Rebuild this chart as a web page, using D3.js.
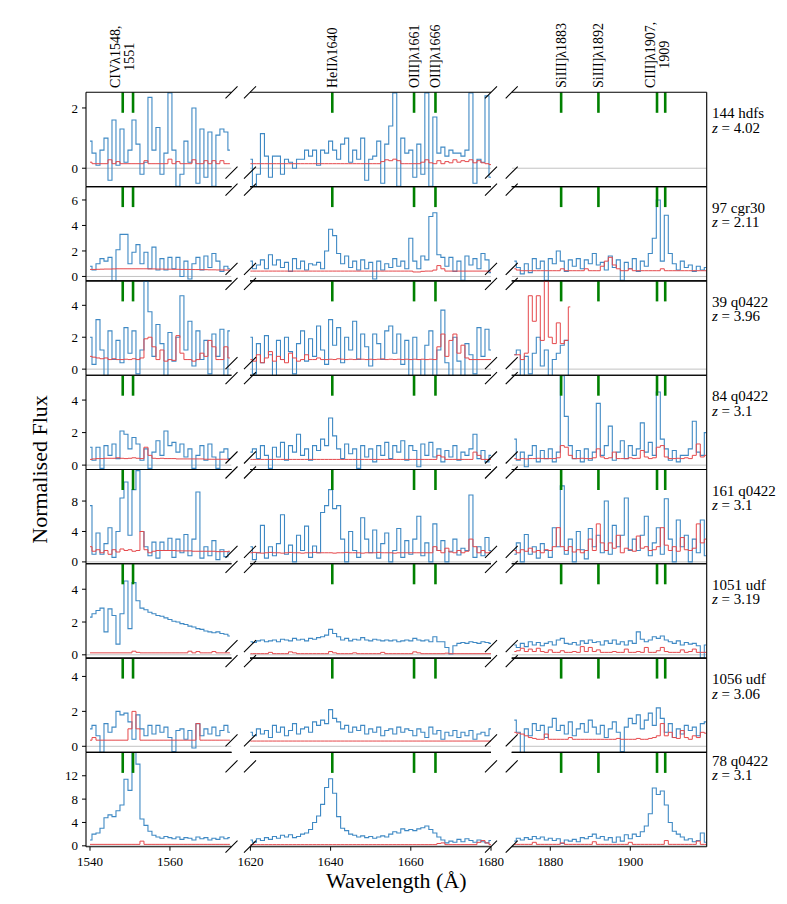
<!DOCTYPE html>
<html><head><meta charset="utf-8">
<script src="https://cdn.jsdelivr.net/npm/d3@7"></script>
<style>body{margin:0;background:#fff;} text{font-family:"Liberation Serif","DejaVu Serif",serif;fill:#000;}</style>
</head><body>
<script>
// ---------------- DATA ----------------
const gridStart = [1540, 1620, 1871];   // first bin centre (Å) in each wavelength window
const gridStep = 1;                      // Å per bin
const rowIds = ["144 hdfs","97 cgr30","39 q0422","84 q0422","161 q0422","1051 udf","1056 udf","78 q0422"];
const redshifts = ["4.02","2.11","3.96","3.1","3.1","3.19","3.06","3.1"];
const yDomains = [[-0.61,2.52],[-0.35,7.05],[-0.38,5.53],[-0.27,5.53],[-0.25,12.15],[-0.2,5.55],[-0.35,5.05],[-0.15,16.0]];
const yTicks = [[0,2],[0,2,4,6],[0,2,4],[0,2,4],[0,4,8],[0,2,4],[0,2,4],[0,4,8,12]];
const xTicks = [[1540,1560],[1620,1640,1660,1680],[1880,1900]];
const lineWaves = [1548.19,1550.77,1640.42,1660.81,1666.15,1882.71,1892.03,1906.68,1908.73];
const labelWaves = [1548.19,1640.42,1660.81,1666.15,1882.71,1892.03,1906.68];
const labelTexts = [["CIVλ1548,","1551"],["HeIIλ1640"],["OIII]λ1661"],["OIII]λ1666"],["SiIII]λ1883"],["SiIII]λ1892"],["CIII]λ1907,","1909"]];

// 144 hdfs
const f144_civ = [0.9,0.5,0.1,0.6,1.0,-0.4,1.6,0.1,1.3,0.2, 0.6,1.6,0.8,-0.2,0.2,2.35,0.6,1.35,-0.2,0.5, 2.5,0.6,-0.6,-0.2,0.9,0.2,2.0,-0.5,1.3,-0.3, 1.2,-0.6,1.1,1.3,1.2,0.6];
const f144_heii = [0.3,-0.6,-0.2,1.15,0.4,-0.3,0.4,0.4,-0.2,0.3, 0.2,0.0,0.3,0.3,0.6,0.4,0.6,0.1,0.6,0.5, 0.9,0.6,0.3,0.8,1.0,0.2,0.6,0.3,1.0,-0.4, 0.3,0.4,0.9,-0.5,0.8,1.4,2.5,-0.6,1.0,0.5, 0.6,-0.3,0.8,-0.2,2.5,-0.6,1.7,0.5,0.7,0.4, 0.6,0.5,0.5,0.4,0.6,2.5,-0.5,0.3,0.2,2.4, -0.3];
const f144_ciii = [];
const e144_civ = [0.2,0.15,0.15,0.15,0.15,0.28,0.15,0.22,0.15,0.15, 0.15,0.15,0.15,0.15,0.25,0.15,0.15,0.15,0.15,0.15, 0.3,0.15,0.22,0.15,0.15,0.15,0.28,0.15,0.15,0.25, 0.15,0.25,0.15,0.25,0.15,0.15];
const e144_heii = [0.15,0.15,0.15,0.15,0.15,0.15,0.15,0.15,0.15,0.15, 0.15,0.15,0.15,0.15,0.15,0.15,0.15,0.15,0.15,0.15, 0.15,0.15,0.15,0.15,0.15,0.15,0.15,0.15,0.15,0.15, 0.15,0.15,0.15,0.22,0.28,0.25,0.3,0.25,0.15,0.15, 0.15,0.15,0.15,0.2,0.28,0.18,0.15,0.25,0.15,0.22, 0.18,0.28,0.2,0.25,0.22,0.28,0.18,0.25,0.18,0.15, 0.12];
const e144_ciii = [];

// 97 cgr30
const f97_civ = [0.8,0.5,1.0,1.4,1.2,1.5,-0.4,2.1,3.3,3.3, 1.0,1.9,2.5,1.0,1.9,0.6,2.3,0.5,1.4,0.5, 1.5,0.6,1.5,0.0,1.2,-0.2,1.0,1.5,0.5,1.6, 0.7,1.8,1.2,0.4,0.8,0.6];
const f97_heii = [1.2,0.6,0.9,1.3,0.6,1.7,0.9,1.3,0.7,1.1, 0.4,1.4,0.6,1.2,0.5,1.0,0.9,1.1,0.6,2.0, 3.7,3.2,1.8,1.0,1.6,0.7,1.2,0.5,1.3,0.6, 1.1,-0.2,1.2,0.5,1.0,0.7,1.4,0.8,1.2,0.6, 3.0,1.2,0.6,1.6,1.3,4.7,5.0,1.7,1.5,0.8, 1.5,0.4,1.2,-0.3,1.6,0.9,1.4,0.6,1.8,1.3, 0.3];
const f97_ciii = [1.2,0.7,0.2,1.0,0.3,1.4,0.6,1.2,-0.3,1.4, 1.0,2.0,1.2,0.4,1.3,0.8,1.4,0.6,1.3,1.0, 1.8,0.9,1.1,0.5,1.6,0.7,1.3,-0.3,1.1,0.6, 1.4,0.4,1.2,0.8,1.8,3.0,6.0,1.2,4.8,1.8, 1.0,0.5,1.2,0.7,0.9,0.4,0.8,0.5,0.7];
const e97_civ = [0.55,0.55,0.56,0.57,0.58,0.58,0.59,0.6,0.6,0.6, 0.6,0.6,0.6,0.6,0.6,0.59,0.59,0.58,0.58,0.57, 0.57,0.56,0.56,0.55,0.55,0.55,0.54,0.54,0.53,0.53, 0.52,0.52,0.51,0.51,0.5,0.5];
const e97_heii = [0.42,0.42,0.42,0.42,0.42,0.42,0.42,0.42,0.42,0.42, 0.42,0.42,0.42,0.42,0.42,0.42,0.42,0.42,0.42,0.42, 0.42,0.42,0.42,0.42,0.42,0.42,0.42,0.42,0.42,0.42, 0.42,0.42,0.42,0.42,0.42,0.42,0.42,0.42,0.42,0.42, 0.42,0.35,0.35,0.4,0.42,0.42,0.5,0.85,0.6,0.42, 0.42,0.42,0.42,0.42,0.42,0.42,0.42,0.42,0.42,0.42, 0.42];
const e97_ciii = [0.6,0.5,0.45,0.45,0.45,0.45,0.45,0.45,0.45,0.45, 0.45,0.45,0.6,0.45,0.45,0.45,0.45,0.45,0.6,0.45, 0.45,0.45,0.8,1.2,1.5,0.9,0.6,0.45,0.45,0.6, 0.45,0.45,0.45,0.45,0.45,0.45,0.45,0.6,0.45,0.45, 0.45,0.45,0.45,0.45,0.45,0.45,0.45,0.45,0.45];

// 39 q0422
const f39_civ = [2.0,0.3,3.1,1.2,-0.4,2.4,0.6,1.8,0.4,2.6, 1.0,2.4,-0.3,1.2,5.5,3.6,0.8,2.8,1.6,-0.4, 2.3,0.5,2.0,4.6,1.2,3.0,0.2,2.4,0.6,1.8, -0.3,2.2,0.8,2.5,-0.4,2.4];
const f39_heii = [2.0,-0.3,1.6,0.4,2.1,0.9,-0.4,1.8,0.6,2.0, 1.1,-0.3,1.6,2.4,0.5,1.9,0.8,2.7,1.2,0.3, 3.1,1.5,2.6,0.4,2.0,1.2,3.0,0.6,2.2,1.4, 0.2,2.2,1.6,0.6,2.4,2.7,1.0,2.2,0.3,1.8, -0.4,2.0,0.6,-0.4,1.5,2.4,-0.4,1.2,3.7,0.4, -0.4,2.0,0.5,-0.4,1.6,0.9,-0.3,2.6,0.8,2.5, 1.2];
const f39_ciii = [0.9,1.2,-0.4,0.8,-0.3,1.0,2.0,0.2,1.2,-0.4,0.6,1.0,1.5,1.8,-0.4];
const e39_civ = [0.8,0.75,0.7,0.65,0.7,0.6,0.65,0.6,0.6,0.62, 0.6,0.65,0.6,0.7,1.9,2.0,1.4,0.6,1.2,0.5, 0.6,0.55,2.1,1.0,0.6,0.6,0.5,0.6,1.0,0.8, 1.8,1.4,0.6,0.6,1.4,0.7];
const e39_heii = [0.6,0.5,0.9,0.4,0.7,1.1,0.5,0.8,0.6,0.4, 1.0,0.7,0.5,0.6,0.9,0.6,0.6,0.7,0.6,0.6, 0.62,0.6,0.65,0.62,0.6,0.62,0.6,0.64,0.62,0.6, 0.62,0.6,0.62,0.64,0.6,0.62,0.6,0.62,0.6,0.62, 0.6,0.62,0.6,0.62,0.6,0.62,0.6,1.4,2.2,0.8, 1.8,2.2,1.0,1.5,0.7,0.6,0.6,0.6,0.6,0.6, 0.6];
const e39_ciii = [0.9,0.9,0.6,1.0,4.6,3.0,4.6,1.8,5.5,2.0,1.6,2.9,1.6,1.8,3.9];

// 84 q0422
const f84_civ = [1.1,0.3,1.1,-0.2,1.2,0.6,1.3,0.4,2.1,1.9, 1.0,1.7,1.3,0.3,1.0,-0.2,0.8,1.5,0.6,2.1, 1.2,1.4,0.8,1.3,0.5,1.0,-0.2,0.6,1.2,0.3, 1.3,0.5,-0.2,0.8,1.0,0.4];
const f84_heii = [0.8,1.0,0.4,1.2,0.6,-0.2,1.1,0.5,1.4,0.3, 1.2,0.8,1.9,0.6,1.0,0.3,1.2,0.9,1.6,1.2, 2.9,1.8,1.0,0.4,1.3,0.7,1.0,-0.2,1.2,0.5, 1.0,0.2,1.2,0.6,1.4,0.4,1.2,0.8,1.5,0.3, 1.2,0.9,-0.1,1.3,0.6,1.4,0.5,1.0,0.2,0.9, 0.5,1.2,0.3,0.8,0.6,1.0,1.9,0.4,0.9,0.2, 0.6];
const f84_ciii = [1.6,0.3,0.8,-0.1,0.6,1.2,0.2,0.9,0.4,1.0, 0.2,0.8,5.5,3.0,1.2,0.4,0.9,0.2,1.0,0.3, 0.8,3.8,0.6,1.2,2.4,0.3,0.8,1.5,0.4,1.2, 0.6,1.0,2.6,0.8,1.4,0.6,4.5,1.6,1.0,0.3, 0.9,0.2,0.6,0.6,1.0,2.7,0.8,0.6,2.0];
const e84_civ = [0.35,0.38,0.4,0.4,0.42,0.42,0.42,0.45,0.42,0.4, 0.42,0.45,0.42,0.4,1.1,0.6,0.42,0.4,0.42,0.4, 0.4,0.4,0.38,0.38,0.38,0.38,0.38,0.38,0.38,0.36, 0.36,0.36,0.36,0.36,0.36,0.35];
const e84_heii = [0.35,0.35,0.35,0.35,0.35,0.35,0.35,0.35,0.35,0.35, 0.35,0.35,0.35,0.35,0.35,0.35,0.35,0.35,0.35,0.35, 0.35,0.35,0.35,0.35,0.35,0.35,0.35,0.35,0.35,0.35, 0.35,0.35,0.35,0.35,0.35,0.35,0.35,0.35,0.35,0.35, 0.35,0.35,0.35,0.35,0.35,0.35,0.35,0.6,0.5,0.35, 0.35,0.35,0.35,0.35,0.35,0.35,0.8,0.6,0.35,0.35, 0.35];
const e84_ciii = [0.4,0.35,0.4,0.38,0.4,0.4,0.42,0.4,0.4,0.4, 0.4,0.45,1.2,1.1,0.6,0.4,0.4,0.42,0.4,0.4, 0.45,1.0,0.5,0.4,0.45,0.8,0.4,0.4,0.4,0.45, 0.4,0.42,0.9,0.5,0.4,0.45,1.1,1.2,0.5,0.4, 0.4,0.42,0.4,0.45,0.4,0.6,1.3,0.5,0.6];

// 161 q0422
const f161_civ = [7.4,1.0,3.8,1.0,2.4,4.5,0.6,4.0,8.4,10.5, 3.5,9.5,12.0,4.0,2.0,0.8,2.6,0.5,2.6,1.5, 3.1,0.6,3.0,1.2,3.6,0.8,3.0,9.2,0.5,2.0, 0.8,2.8,0.3,1.6,0.7,1.3];
const f161_heii = [2.0,0.3,1.2,4.8,0.5,2.0,0.8,2.4,6.2,1.0, 2.2,0.0,3.5,1.5,4.7,0.6,2.1,1.2,6.5,7.4, 9.5,7.0,7.4,3.0,0.0,4.0,1.5,0.6,5.8,3.0, 1.2,4.2,0.5,2.4,3.8,0.0,1.5,4.4,0.6,2.8, 1.0,3.0,6.0,0.8,2.5,0.0,5.0,1.5,2.8,0.0, 1.4,3.0,0.9,1.8,1.5,8.8,0.6,2.0,0.8,3.2, 1.5];
const f161_ciii = [1.0,2.5,0.0,3.6,1.0,2.0,0.5,2.4,1.5,0.6, 4.5,2.0,10.0,1.0,3.0,0.0,4.0,1.6,0.4,4.4, 2.0,3.5,1.2,8.0,1.0,4.8,2.0,3.5,8.4,1.5, 3.0,1.5,3.5,6.0,0.8,2.5,4.5,1.0,8.3,3.0, 0.0,5.5,2.0,3.5,0.0,3.0,1.2,5.5,0.8];
const e161_civ = [2.0,1.4,1.6,1.2,1.5,1.0,1.6,1.3,1.7,1.5, 1.6,1.4,1.5,4.0,1.6,1.2,1.4,1.5,1.5,1.5, 1.5,1.5,1.45,1.45,1.45,1.45,1.4,1.4,1.4,1.4, 1.4,1.4,1.35,1.35,1.35,1.4];
const e161_heii = [1.2,1.25,1.2,1.15,1.2,1.25,1.2,1.2,1.15,1.2, 1.25,1.2,1.2,1.15,1.2,1.2,1.25,1.2,1.2,1.2, 1.2,1.15,1.2,1.2,1.25,1.2,1.2,1.2,1.15,1.2, 1.2,1.2,1.25,1.2,1.2,1.2,1.15,1.2,1.2,1.2, 1.2,1.2,1.2,1.2,1.2,1.2,2.0,1.5,1.2,1.8, 1.3,1.2,1.5,1.2,1.4,3.0,2.0,1.2,1.5,1.2, 1.3];
const e161_ciii = [1.5,1.2,1.6,1.4,1.8,1.3,1.5,1.2,1.6,1.5, 2.0,4.5,2.0,1.5,2.0,1.3,1.6,1.2,1.5,3.0, 1.5,5.0,2.5,1.5,2.5,1.8,3.5,1.2,1.8,1.6, 1.4,3.4,1.8,2.0,1.5,1.6,2.0,4.5,2.2,1.5, 2.0,1.4,3.2,1.6,1.5,1.8,5.0,2.5,3.0];

// 1051 udf
const f1051_civ = [2.3,2.5,2.7,2.85,1.4,2.8,2.4,0.65,2.5,4.5, 1.6,4.4,3.3,2.85,2.75,2.6,2.5,2.4,2.35,2.25, 2.15,2.05,2.0,1.9,1.85,1.75,1.7,1.6,1.55,1.45, 1.4,1.35,1.4,1.3,1.25,1.15];
const f1051_heii = [0.8,0.75,0.85,0.9,0.8,0.85,0.9,0.8,0.95,0.9, 0.85,1.0,0.9,0.95,0.85,1.0,0.95,1.05,1.1,1.2, 1.55,1.3,1.1,0.9,1.0,0.85,0.95,0.9,1.05,0.9, 0.85,0.95,0.9,0.85,0.9,0.85,0.9,0.8,0.85,0.9, 0.85,1.0,0.9,0.85,0.9,0.8,1.1,0.8,0.8,0.45, 0.05,0.55,0.7,0.75,0.7,0.8,0.75,0.7,0.8,0.75, 0.7];
const f1051_ciii = [0.6,0.45,0.7,0.5,0.8,0.6,0.75,0.55,0.7,0.8, 0.6,0.9,1.0,0.7,0.65,0.75,0.6,0.85,0.7,0.9, 0.75,0.8,0.6,0.85,0.7,0.9,0.65,0.8,0.6,0.85, 0.7,1.4,0.95,0.8,0.9,1.1,1.0,1.15,0.9,0.8, 0.7,0.85,0.6,0.75,0.65,0.7,0.55,-0.2,0.6];
const e1051_civ = [0.12,0.12,0.12,0.12,0.12,0.12,0.12,0.12,0.12,0.12, 0.12,0.22,0.15,0.12,0.12,0.12,0.12,0.12,0.12,0.12, 0.12,0.12,0.12,0.12,0.12,0.22,0.12,0.2,0.12,0.12, 0.12,0.2,0.12,0.12,0.12,0.12];
const e1051_heii = [0.07,0.07,0.07,0.07,0.07,0.15,0.07,0.07,0.07,0.07, 0.18,0.12,0.07,0.07,0.07,0.07,0.07,0.07,0.07,0.07, 0.2,0.12,0.07,0.07,0.07,0.07,0.12,0.07,0.07,0.07, 0.07,0.07,0.07,0.15,0.07,0.07,0.07,0.07,0.07,0.07, 0.07,0.18,0.12,0.07,0.07,0.07,0.07,0.07,0.07,0.1, 0.07,0.07,0.07,0.07,0.07,0.07,0.07,0.07,0.07,0.07, 0.07];
const e1051_ciii = [0.2,0.25,0.4,0.2,0.35,0.2,0.4,0.2,0.15,0.3, 0.15,0.15,0.25,0.15,0.15,0.2,0.15,0.5,0.2,0.45, 0.2,0.3,0.15,0.15,0.15,0.2,0.15,0.15,0.35,0.15, 0.15,0.2,0.15,0.45,0.15,0.15,0.25,0.45,0.2,0.15, 0.15,0.15,0.3,0.15,0.2,0.35,0.15,0.15,0.15];

// 1056 udf
const f1056_civ = [1.0,1.2,0.6,-0.35,1.3,0.8,1.1,2.0,1.8,1.9, 1.4,0.4,1.8,1.0,0.6,1.2,0.7,1.2,0.8,1.1, 0.5,-0.3,0.9,1.0,0.4,0.9,-0.1,1.3,0.6,1.0, 0.7,1.1,0.6,0.9,1.2,0.8];
const f1056_heii = [0.8,0.6,1.0,0.7,0.9,0.5,1.2,0.8,1.1,0.6, 0.9,1.3,0.7,1.0,1.1,0.8,1.4,1.2,1.5,1.3, 2.1,1.6,1.4,1.0,1.2,0.8,1.1,0.9,1.2,0.7, 1.0,0.8,1.1,0.6,0.9,1.0,0.7,1.1,0.8,1.0, 0.9,0.6,1.0,0.8,0.5,1.1,0.7,0.9,0.4,0.8, 0.6,0.9,0.5,0.8,0.6,0.9,0.4,0.7,0.8,0.6, 1.0];
const f1056_ciii = [1.5,0.8,-0.4,1.0,0.6,1.3,0.9,1.2,0.5,1.1, 1.6,0.9,1.2,0.7,1.4,0.6,1.0,1.3,0.8,1.5, 1.1,0.7,1.2,0.5,1.0,1.4,0.8,-0.3,1.1,1.6, 1.3,1.8,1.0,1.5,1.9,1.2,2.2,1.6,0.8,1.3, 0.5,1.0,0.7,1.2,0.9,1.1,0.6,1.3,1.4];
const e1056_civ = [0.35,0.5,0.35,0.35,0.35,0.35,0.35,0.35,0.35,0.35, 1.0,2.0,1.0,0.35,0.35,0.35,0.35,0.35,0.35,0.35, 0.35,0.35,0.35,0.35,0.35,0.35,0.35,1.3,0.35,0.35, 0.35,0.35,0.35,0.35,0.35,0.35];
const e1056_heii = [0.3,0.3,0.3,0.3,0.3,0.3,0.3,0.3,0.3,0.3, 0.3,0.3,0.3,0.3,0.3,0.3,0.3,0.3,0.3,0.3, 0.3,0.3,0.3,0.3,0.3,0.3,0.3,0.3,0.3,0.3, 0.3,0.3,0.3,0.3,0.3,0.3,0.3,0.3,0.3,0.3, 0.3,0.3,0.3,0.3,0.3,0.3,0.3,0.3,0.3,0.3, 0.3,0.3,0.3,0.3,0.3,0.3,0.3,0.3,0.3,0.3, 0.3];
const e1056_ciii = [0.8,0.75,0.7,0.6,0.5,0.45,0.4,0.4,0.7,0.4, 0.4,0.4,0.4,0.4,0.5,0.4,0.4,0.4,0.4,0.4, 0.4,0.4,0.4,0.4,0.4,0.4,0.45,0.4,0.4,0.4, 0.4,0.45,0.4,0.4,0.45,0.5,0.6,1.3,0.6,0.8, 0.5,0.45,0.9,0.5,0.4,0.6,0.5,0.8,0.75];

// 78 q0422
const f78_civ = [1.0,2.0,2.2,3.0,4.8,5.3,5.0,6.0,7.0,11.4, 9.5,16.5,14.0,4.6,3.5,2.5,1.8,1.5,1.3,1.6, 1.4,1.2,1.5,1.1,1.4,1.3,1.0,1.5,1.2,1.4, 1.0,1.3,1.1,1.5,1.2,1.4];
const f78_heii = [1.0,0.6,1.2,0.9,1.4,1.1,1.6,1.3,1.8,1.5, 1.9,1.4,1.6,2.0,2.2,2.8,4.0,5.1,7.1,10.0, 11.5,9.0,5.0,3.0,2.6,2.0,1.8,1.5,1.7,1.4, 1.6,1.3,1.5,1.7,1.5,2.0,2.4,2.2,2.9,2.6, 2.8,2.6,2.9,3.1,3.4,2.8,2.2,1.5,1.0,0.5, 0.8,0.6,1.1,0.7,1.2,0.9,0.6,1.0,0.7,0.5, 0.9];
const f78_ciii = [0.8,1.3,1.0,1.4,1.1,1.6,1.2,1.5,1.0,1.3, 0.9,1.2,0.4,1.0,0.8,1.1,0.7,1.4,1.2,1.6, 2.0,1.3,1.6,1.0,1.4,0.6,1.5,0.8,1.9,1.2, 2.0,1.6,2.4,3.4,5.5,9.9,8.8,9.4,7.0,4.0, 2.5,2.0,1.5,1.0,1.2,0.7,0.9,2.2,0.6];
const e78_civ = [0.25,0.25,0.25,0.25,0.25,0.25,0.25,0.25,0.25,0.25, 0.25,0.25,0.25,0.8,0.25,0.25,0.25,0.25,0.25,0.25, 0.25,0.25,0.25,0.25,0.25,0.25,0.25,0.25,0.25,0.25, 0.25,0.25,0.25,0.25,0.25,0.25];
const e78_heii = [0.2,0.2,0.2,0.2,0.2,0.2,0.2,0.2,0.2,0.2, 0.2,0.2,0.2,0.2,0.2,0.2,0.2,0.2,0.2,0.2, 0.2,0.2,0.2,0.2,0.2,0.2,0.2,0.2,0.2,0.2, 0.2,0.2,0.2,0.2,0.2,0.2,0.2,0.2,0.2,0.2, 0.2,0.2,0.2,0.2,0.2,0.2,0.2,0.4,0.5,0.2, 0.2,0.2,0.2,0.2,0.2,0.2,0.2,0.6,0.9,0.5, 0.2];
const e78_ciii = [0.25,0.25,0.25,0.25,0.25,0.6,0.25,0.25,0.25,0.25, 0.25,0.25,0.5,0.25,0.25,0.25,0.25,0.25,0.25,0.25, 0.7,0.25,0.25,0.25,0.25,0.25,0.25,0.25,0.25,0.6, 0.25,0.25,0.25,0.25,0.25,0.25,0.25,0.25,0.9,0.25, 0.25,0.25,0.25,0.25,0.25,0.25,0.8,0.25,0.25];

const fluxes = [[f144_civ,f144_heii,f144_ciii],[f97_civ,f97_heii,f97_ciii],[f39_civ,f39_heii,f39_ciii],[f84_civ,f84_heii,f84_ciii],[f161_civ,f161_heii,f161_ciii],[f1051_civ,f1051_heii,f1051_ciii],[f1056_civ,f1056_heii,f1056_ciii],[f78_civ,f78_heii,f78_ciii]];
const errors = [[e144_civ,e144_heii,e144_ciii],[e97_civ,e97_heii,e97_ciii],[e39_civ,e39_heii,e39_ciii],[e84_civ,e84_heii,e84_ciii],[e161_civ,e161_heii,e161_ciii],[e1051_civ,e1051_heii,e1051_ciii],[e1056_civ,e1056_heii,e1056_ciii],[e78_civ,e78_heii,e78_ciii]];

// ---------------- LAYOUT ----------------
const W = 787, H = 904;
const ROW_TOP = 92.3, ROW_H = 94.3, NROW = 8;
const panels = [{x0:86, x1:231.5, d:[1539,1575.4]},{x0:250, x1:491, d:[1619.9,1680.0]},{x0:511.7, x1:706.7, d:[1870.35,1919.1]}];
const markOffTop = [0,3,3,3,3,3,3,14], markOffBot = [-14,-12,-12,-12,-12,-12,-12,0];
const labelOff = [26,26,26,26,26,26,26,13.5];
const BLUE = "#3f89c4", RED = "#e5484b", GREEN = "#008000";

const svg = d3.select("body").append("svg").attr("width", W).attr("height", H);
svg.append("rect").attr("width", W).attr("height", H).attr("fill", "#fff");
const xs = panels.map(p => d3.scaleLinear().domain(p.d).range([p.x0, p.x1]));
const defs = svg.append("defs");

for (let r = 0; r < NROW; r++) {
  const top = ROW_TOP + r * ROW_H, bot = top + ROW_H;
  const y = d3.scaleLinear().domain(yDomains[r]).range([bot, top]);
  const g = svg.append("g");
  panels.forEach((P, p) => {
    const x = xs[p];
    const cid = `clip${r}_${p}`;
    defs.append("clipPath").attr("id", cid).append("rect")
      .attr("x", P.x0).attr("y", top).attr("width", P.x1 - P.x0).attr("height", ROW_H);
    const pg = g.append("g").attr("clip-path", `url(#${cid})`);
    pg.append("line").attr("x1", P.x0).attr("x2", P.x1).attr("y1", y(0)).attr("y2", y(0))
      .attr("stroke", "#c2c2c2").attr("stroke-width", 1);
    const line = d3.line().x((d, i) => x(gridStart[p] + i * gridStep)).y(d => y(d)).curve(d3.curveStep);
    const fl = fluxes[r][p], er = errors[r][p];
    if (fl.length) pg.append("path").datum(fl).attr("d", line).attr("fill", "none")
      .attr("stroke", BLUE).attr("stroke-width", 1.1).attr("stroke-linejoin", "miter");
    if (er.length) pg.append("path").datum(er).attr("d", line).attr("fill", "none")
      .attr("stroke", RED).attr("stroke-width", 1.0);
    // emission line markers
    lineWaves.filter(w => w >= P.d[0] && w <= P.d[1]).forEach(w => {
      g.append("line").attr("x1", x(w)).attr("x2", x(w)).attr("y1", top).attr("y2", top + 20.5)
        .attr("stroke", GREEN).attr("stroke-width", 2.6);
    });
    // spines
    [top, bot].forEach(yy => g.append("line").attr("x1", P.x0).attr("x2", P.x1).attr("y1", yy).attr("y2", yy)
      .attr("stroke", "#000").attr("stroke-width", 1.1));
    if (p === 0) g.append("line").attr("x1", P.x0).attr("x2", P.x0).attr("y1", top).attr("y2", bot).attr("stroke", "#000").attr("stroke-width", 1.1);
    if (p === 2) g.append("line").attr("x1", P.x1).attr("x2", P.x1).attr("y1", top).attr("y2", bot).attr("stroke", "#000").attr("stroke-width", 1.1);
    // break marks
    const edges = [];
    if (p > 0) edges.push(P.x0);
    if (p < 2) edges.push(P.x1);
    edges.forEach(ex => {
      [top + markOffTop[r], bot + markOffBot[r]].forEach(my => {
        g.append("line").attr("x1", ex - 6).attr("y1", my + 6).attr("x2", ex + 6).attr("y2", my - 6)
          .attr("stroke", "#000").attr("stroke-width", 1.1);
      });
    });
  });
  // y ticks
  yTicks[r].forEach(t => {
    g.append("line").attr("x1", 82).attr("x2", 86).attr("y1", y(t)).attr("y2", y(t)).attr("stroke", "#000").attr("stroke-width", 1);
    g.append("text").attr("x", 78).attr("y", y(t)).attr("dy", "0.35em").attr("text-anchor", "end")
      .attr("font-size", 13).text(t);
  });
  // right labels
  g.append("text").attr("x", 712).attr("y", top + labelOff[r]).attr("font-size", 15).text(rowIds[r]);
  const zt = g.append("text").attr("x", 712).attr("y", top + labelOff[r] + 14.5).attr("font-size", 15);
  zt.append("tspan").attr("font-style", "italic").text("z");
  zt.append("tspan").text(" = " + redshifts[r]);
}

// bottom x axis
const bottomY = ROW_TOP + NROW * ROW_H;
panels.forEach((P, p) => {
  xTicks[p].forEach(t => {
    svg.append("line").attr("x1", xs[p](t)).attr("x2", xs[p](t)).attr("y1", bottomY).attr("y2", bottomY + 4)
      .attr("stroke", "#000").attr("stroke-width", 1);
    svg.append("text").attr("x", xs[p](t)).attr("y", bottomY + 19).attr("text-anchor", "middle")
      .attr("font-size", 13).text(t);
  });
});

// line labels
labelWaves.forEach((w, i) => {
  const p = panels.findIndex(P => w >= P.d[0] && w <= P.d[1]);
  const m = xs[p](w);
  const lines = labelTexts[i];
  const baseY = ROW_TOP - 4.3;
  if (lines.length === 1) {
    svg.append("text").attr("transform", `translate(${m + 4.8},${baseY}) rotate(-90)`)
      .attr("font-size", 14).text(lines[0]);
  } else {
    const t1 = svg.append("text").attr("transform", `translate(${m - 2.3},${baseY}) rotate(-90)`)
      .attr("font-size", 14).text(lines[0]);
    const L1 = t1.node().getComputedTextLength();
    svg.append("text").attr("transform", `translate(${m + 11.7},${baseY - L1 / 2}) rotate(-90)`)
      .attr("text-anchor", "middle").attr("font-size", 14).text(lines[1]);
  }
});

// axis titles
svg.append("text").attr("x", (panels[0].x0 + panels[2].x1) / 2).attr("y", 888).attr("text-anchor", "middle")
  .attr("font-size", 22).text("Wavelength (Å)");
svg.append("text").attr("transform", `translate(47,${ROW_TOP + NROW * ROW_H / 2}) rotate(-90)`)
  .attr("text-anchor", "middle").attr("font-size", 22).text("Normalised Flux");
</script>
</body></html>
